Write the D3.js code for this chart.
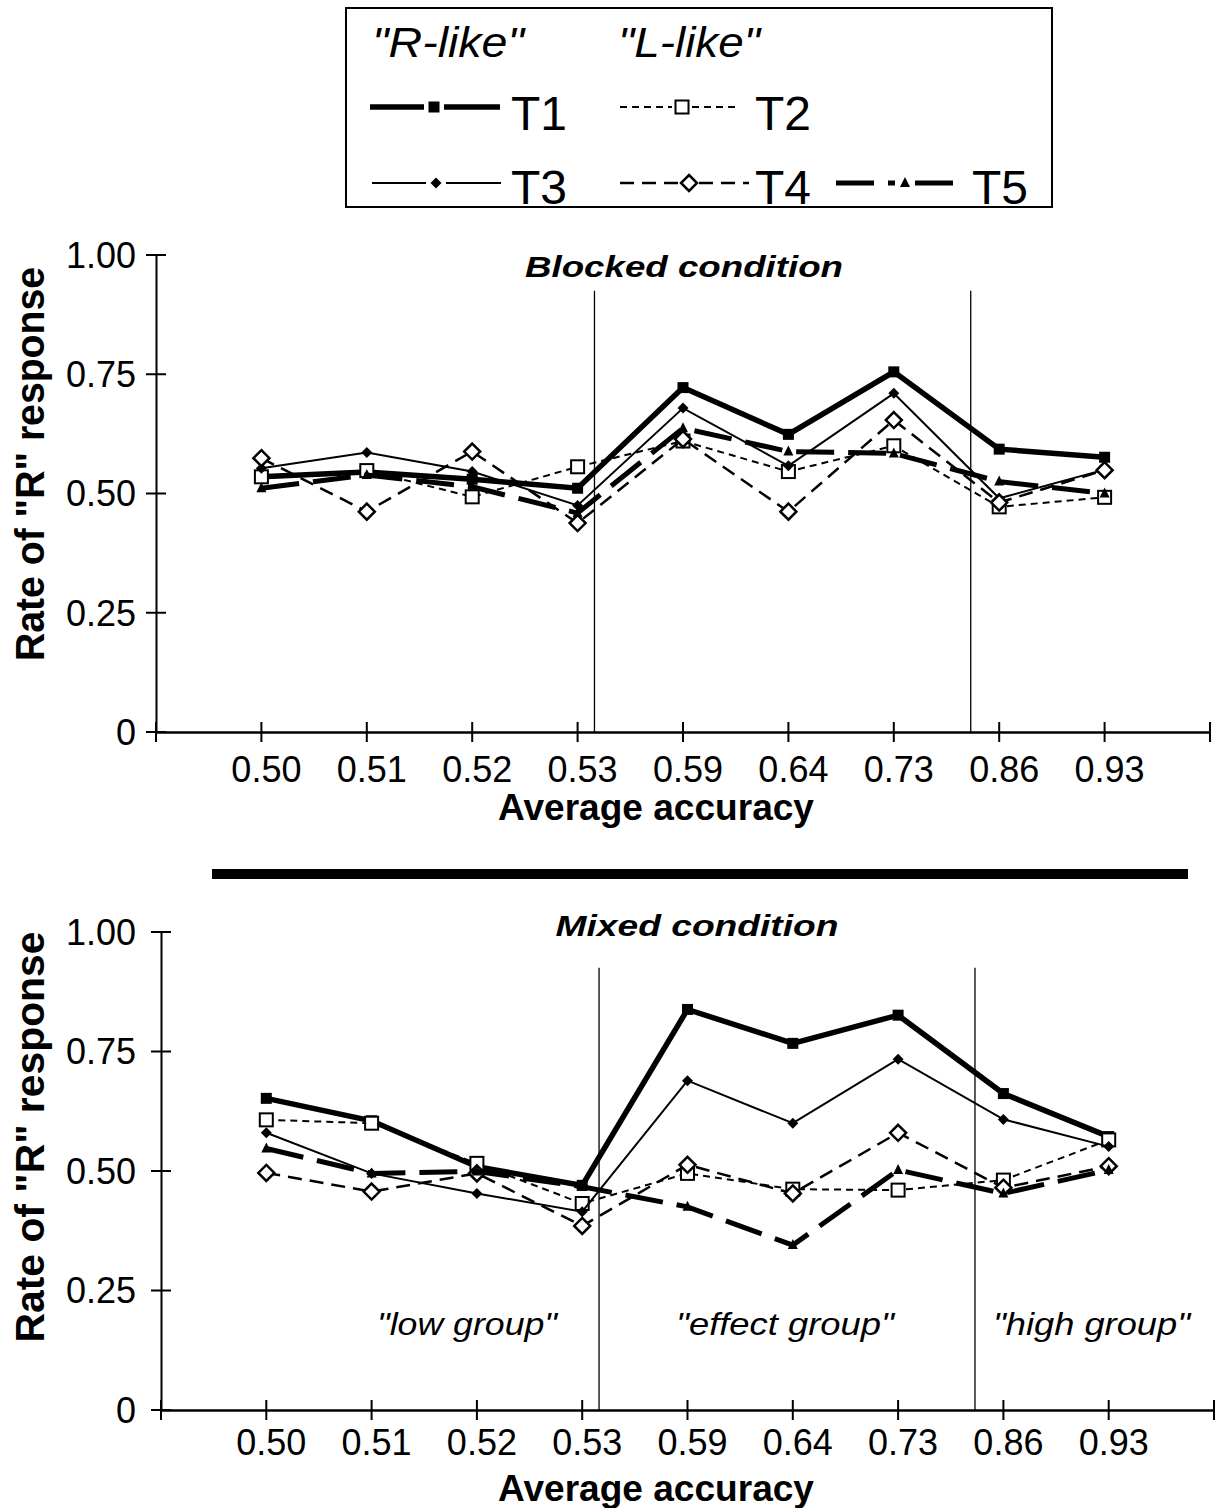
<!DOCTYPE html>
<html>
<head>
<meta charset="utf-8">
<script src="https://cdn.jsdelivr.net/npm/d3@7"></script>
<style>
  html, body { margin: 0; padding: 0; background: #fff; }
  svg { display: block; }
  text { font-family: "Liberation Sans", Arial, Helvetica, sans-serif; fill: #000; }
</style>
</head>
<body>
<script>
// ---------------- DATA ----------------
const categories = ["0.50", "0.51", "0.52", "0.53", "0.59", "0.64", "0.73", "0.86", "0.93"];
const yTicks = [0, 0.25, 0.5, 0.75, 1.0];
const yTickLabels = ["0", "0.25", "0.50", "0.75", "1.00"];
const seriesNames = ["T1", "T2", "T3", "T4", "T5"];

// Blocked condition
const blockedT1 = [0.535, 0.545, 0.530, 0.511, 0.722, 0.624, 0.755, 0.593, 0.576];
const blockedT2 = [0.535, 0.548, 0.493, 0.556, 0.610, 0.546, 0.600, 0.472, 0.492];
const blockedT3 = [0.553, 0.586, 0.546, 0.475, 0.679, 0.558, 0.710, 0.490, 0.550];
const blockedT4 = [0.574, 0.462, 0.588, 0.438, 0.614, 0.462, 0.654, 0.481, 0.549];
const blockedT5 = [0.511, 0.539, 0.514, 0.459, 0.637, 0.588, 0.584, 0.525, 0.500];

// Mixed condition
const mixedT1 = [0.652, 0.605, 0.509, 0.470, 0.838, 0.767, 0.826, 0.662, 0.572];
const mixedT2 = [0.607, 0.600, 0.516, 0.432, 0.495, 0.462, 0.460, 0.481, 0.565];
const mixedT3 = [0.580, 0.495, 0.453, 0.415, 0.689, 0.600, 0.734, 0.608, 0.551];
const mixedT4 = [0.496, 0.457, 0.495, 0.385, 0.513, 0.453, 0.580, 0.465, 0.510];
const mixedT5 = [0.547, 0.495, 0.499, 0.467, 0.425, 0.345, 0.502, 0.453, 0.502];

// group boundaries (in category-position units) and their top (in value units)
const dividerPositions = [4.16, 7.73];
const dividerTop = 0.925;
const groupLabels = ['"low group"', '"effect group"', '"high group"'];

// ---------------- STYLES ----------------
const styles = {
  T1: { width: 5.5, dash: null,    marker: "sqFilled" },
  T2: { width: 2,   dash: "7,5",   marker: "sqOpen" },
  T3: { width: 2,   dash: null,    marker: "diaFilled" },
  T4: { width: 2.5, dash: "14,8",  marker: "diaOpen" },
  T5: { width: 5,   dash: "38,14", marker: "triFilled" }
};

const W = 1225, H = 1508;
const svg = d3.select("body").append("svg").attr("width", W).attr("height", H);

function drawMarker(g, type, x, y) {
  if (type === "sqFilled") {
    g.append("rect").attr("x", x - 5.5).attr("y", y - 5.5).attr("width", 11).attr("height", 11).attr("fill", "#000");
  } else if (type === "sqOpen") {
    g.append("rect").attr("x", x - 6.5).attr("y", y - 6.5).attr("width", 13).attr("height", 13)
      .attr("fill", "#fff").attr("stroke", "#000").attr("stroke-width", 2);
  } else if (type === "diaFilled") {
    g.append("path").attr("d", `M${x},${y-5.5}L${x+5.5},${y}L${x},${y+5.5}L${x-5.5},${y}Z`).attr("fill", "#000");
  } else if (type === "diaOpen") {
    g.append("path").attr("d", `M${x},${y-8}L${x+8},${y}L${x},${y+8}L${x-8},${y}Z`)
      .attr("fill", "#fff").attr("stroke", "#000").attr("stroke-width", 2.5);
  } else if (type === "triFilled") {
    g.append("path").attr("d", `M${x},${y-6}L${x+5},${y+4}L${x-5},${y+4}Z`).attr("fill", "#000");
  }
}

function drawPanel(cfg) {
  const x = d3.scaleLinear().domain([0, 10]).range([cfg.x0, cfg.x1]);
  const y = d3.scaleLinear().domain([0, 1]).range([cfg.y0, cfg.y1]);
  const g = svg.append("g");

  // y axis
  const yAxis = d3.axisLeft(y).tickValues(yTicks).tickSize(0).tickFormat("");
  const ya = g.append("g").attr("transform", `translate(${x(0)},0)`).call(yAxis);
  ya.select(".domain").attr("stroke", "#000").attr("stroke-width", 2);
  g.selectAll(null).data(yTicks).enter().append("line")
    .attr("x1", x(0) - 10).attr("x2", x(0) + 10)
    .attr("y1", d => y(d)).attr("y2", d => y(d))
    .attr("stroke", "#000").attr("stroke-width", 2);
  g.selectAll(null).data(yTicks).enter().append("text")
    .attr("x", x(0) - cfg.yLabelGap).attr("y", d => y(d))
    .attr("dy", "0.36em").attr("text-anchor", "end")
    .style("font-size", "36px")
    .text((d, i) => yTickLabels[i]);

  // x axis
  const xAxis = d3.axisBottom(x).tickValues(d3.range(0, 11)).tickSize(0).tickFormat("");
  const xa = g.append("g").attr("transform", `translate(0,${y(0)})`).call(xAxis);
  xa.select(".domain").attr("stroke", "#000").attr("stroke-width", 2.5);
  g.selectAll(null).data(d3.range(0, 11)).enter().append("line")
    .attr("x1", d => x(d)).attr("x2", d => x(d))
    .attr("y1", y(0) - 10).attr("y2", y(0) + 10)
    .attr("stroke", "#000").attr("stroke-width", 2);
  g.selectAll(null).data(categories).enter().append("text")
    .attr("x", (d, i) => x(i + 1) + 5).attr("y", y(0) + cfg.xLabelDy)
    .attr("text-anchor", "middle").style("font-size", "36px")
    .text(d => d);

  // axis titles
  g.append("text").attr("x", 656).attr("y", cfg.xTitleY).attr("text-anchor", "middle")
    .style("font-size", "36px").style("font-weight", "bold")
    .attr("textLength", 316).attr("lengthAdjust", "spacingAndGlyphs")
    .text("Average accuracy");
  g.append("text")
    .attr("transform", `translate(44,${cfg.yTitleCenter}) rotate(-90)`)
    .attr("text-anchor", "middle").style("font-size", "40px").style("font-weight", "bold")
    .attr("textLength", cfg.yTitleLen).attr("lengthAdjust", "spacingAndGlyphs")
    .text('Rate of "R"  response');

  // panel title
  g.append("text").attr("x", cfg.titleX).attr("y", cfg.titleY).attr("text-anchor", "middle")
    .style("font-size", "30px").style("font-weight", "bold").style("font-style", "italic")
    .attr("textLength", cfg.titleLen).attr("lengthAdjust", "spacingAndGlyphs")
    .text(cfg.title);

  // dividers
  g.selectAll(null).data(dividerPositions).enter().append("line")
    .attr("x1", d => x(d)).attr("x2", d => x(d))
    .attr("y1", y(dividerTop)).attr("y2", y(0))
    .attr("stroke", "#000").attr("stroke-width", 1.3);

  // series
  const line = d3.line().x((d, i) => x(i + 1)).y(d => y(d));
  cfg.series.forEach((vals, si) => {
    const st = styles[seriesNames[si]];
    const sg = g.append("g");
    sg.append("path").attr("d", line(vals)).attr("fill", "none")
      .attr("stroke", "#000").attr("stroke-width", st.width)
      .attr("stroke-dasharray", st.dash).attr("stroke-linejoin", "miter");
    vals.forEach((v, i) => drawMarker(sg, st.marker, x(i + 1), y(v)));
  });

  // group labels
  if (cfg.groupLabels) {
    const pos = [[377, 180], [676, 218], [993, 197]];
    cfg.groupLabels.forEach((t, i) => {
      g.append("text").attr("x", pos[i][0]).attr("y", 1335)
        .style("font-size", "32px").style("font-style", "italic")
        .attr("textLength", pos[i][1]).attr("lengthAdjust", "spacingAndGlyphs")
        .text(t);
    });
  }
}

drawPanel({
  x0: 156, x1: 1210, y0: 732, y1: 255, yLabelGap: 20, xLabelDy: 50, xTitleY: 820,
  yTitleCenter: 464, yTitleLen: 394,
  title: "Blocked condition", titleX: 684, titleY: 277, titleLen: 318,
  series: [blockedT1, blockedT2, blockedT3, blockedT4, blockedT5]
});

drawPanel({
  x0: 161, x1: 1214, y0: 1410, y1: 932, yLabelGap: 25, xLabelDy: 45, xTitleY: 1501,
  yTitleCenter: 1137, yTitleLen: 411,
  title: "Mixed condition", titleX: 697, titleY: 936, titleLen: 283,
  series: [mixedT1, mixedT2, mixedT3, mixedT4, mixedT5],
  groupLabels: groupLabels
});

// separator bar
svg.append("rect").attr("x", 212).attr("y", 869).attr("width", 976).attr("height", 10).attr("fill", "#000");

// ---------------- LEGEND ----------------
const lg = svg.append("g");
lg.append("rect").attr("x", 346).attr("y", 8).attr("width", 706).attr("height", 199)
  .attr("fill", "none").attr("stroke", "#000").attr("stroke-width", 2);
lg.append("text").attr("x", 372).attr("y", 57).style("font-size", "42px").style("font-style", "italic")
  .attr("textLength", 152).attr("lengthAdjust", "spacingAndGlyphs").text('"R-like"');
lg.append("text").attr("x", 618).attr("y", 57).style("font-size", "42px").style("font-style", "italic")
  .attr("textLength", 142).attr("lengthAdjust", "spacingAndGlyphs").text('"L-like"');

const legendItems = [
  { name: "T1", x1: 370, x2: 500, mx: 434, y: 107, tx: 511, ty: 130 },
  { name: "T2", x1: 620, x2: 739, mx: 682, y: 107, tx: 755, ty: 130 },
  { name: "T3", x1: 372, x2: 501, mx: 436, y: 183, tx: 511, ty: 204 },
  { name: "T4", x1: 620, x2: 749, mx: 689, y: 183, tx: 755, ty: 204 },
  { name: "T5", x1: 836, x2: 955, mx: 905, y: 183, tx: 972, ty: 204 }
];
const legendGap = 10;
legendItems.forEach(it => {
  const st = styles[it.name];
  [[it.x1, it.mx - legendGap], [it.mx + legendGap, it.x2]].forEach(seg => {
    lg.append("line").attr("x1", seg[0]).attr("x2", seg[1]).attr("y1", it.y).attr("y2", it.y)
      .attr("stroke", "#000").attr("stroke-width", st.width).attr("stroke-dasharray", st.dash);
  });
  drawMarker(lg, st.marker, it.mx, it.y);
  lg.append("text").attr("x", it.tx).attr("y", it.ty).style("font-size", "48px").text(it.name);
});
</script>
</body>
</html>
